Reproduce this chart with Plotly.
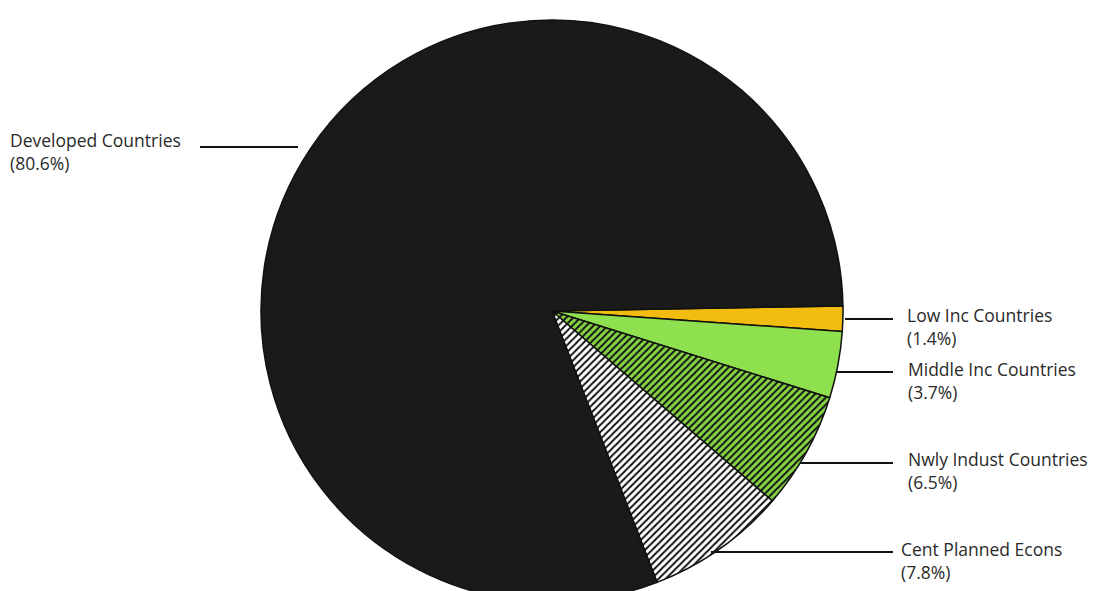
import plotly.graph_objects as go

labels = ["Low Inc Countries", "Middle Inc Countries", "Nwly Indust Countries",
          "Cent Planned Econs", "Developed Countries"]
values = [1.4, 3.7, 6.5, 7.8, 80.6]
pct_text = ["(1.4%)", "(3.7%)", "(6.5%)", "(7.8%)", "(80.6%)"]
colors = ["#f2bd0f", "#8ee04e", "#86d444", "#ffffff", "#1a1a1a"]
pattern_shapes = ["", "", "/", "/", ""]

W, H = 1101, 622
cx, cy, r = 552, 311, 291

def px(x):
    return x / W

def py(y):
    return (H - y) / H

fig = go.Figure()
fig.add_trace(go.Pie(
    labels=labels,
    values=values,
    sort=False,
    direction="clockwise",
    rotation=89,
    textinfo="none",
    hoverinfo="label+percent",
    marker=dict(
        colors=colors,
        line=dict(color="#111111", width=1.5),
        pattern=dict(shape=pattern_shapes, fgcolor="#111111", bgcolor=colors,
                     size=5, solidity=0.4),
    ),
    domain=dict(x=[px(cx - r), px(cx + r)], y=[py(cy + r), py(cy - r)]),
    showlegend=False,
))

# label positions (pixels): text x, text center y, line x0, line x1, line y
label_pos = {
    "Low Inc Countries": (905, 326, 845, 893, 319),
    "Middle Inc Countries": (906, 380, 837, 893, 372),
    "Nwly Indust Countries": (906, 470, 800, 893, 463),
    "Cent Planned Econs": (899, 560, 711, 893, 552),
    "Developed Countries": (8, 151, 200, 298, 147),
}

for lab, pt in zip(labels, pct_text):
    tx, ty, lx0, lx1, ly = label_pos[lab]
    fig.add_annotation(
        x=px(tx), y=py(ty), xref="paper", yref="paper",
        text=f"{lab}<br>{pt}", showarrow=False, align="left",
        xanchor="left", yanchor="middle",
        font=dict(family="Open Sans", size=17.5, color="#2a2a2a"),
    )
    fig.add_shape(type="line", xref="paper", yref="paper",
                  x0=px(lx0), x1=px(lx1), y0=py(ly), y1=py(ly),
                  line=dict(color="#111111", width=2.2))

fig.update_layout(
    width=W, height=H,
    margin=dict(l=0, r=0, t=0, b=0),
    paper_bgcolor="white",
    plot_bgcolor="white",
)

fig.write_html("out.html", post_script="document.documentElement.style.overflow='hidden';document.body.style.overflow='hidden';document.body.style.margin='0';")
